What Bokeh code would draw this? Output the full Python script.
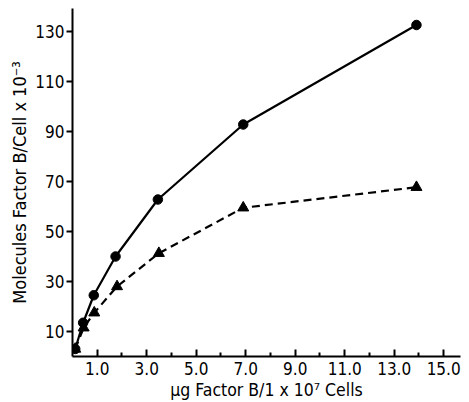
from bokeh.plotting import figure
from bokeh.models import Range1d, FixedTicker, NumeralTickFormatter
from bokeh.embed import file_html
from bokeh.resources import INLINE

# data
x_circle = [0.11, 0.43, 0.86, 1.74, 3.45, 6.9, 13.9]
y_circle = [3.0, 13.5, 24.5, 40.0, 62.8, 92.8, 132.6]
x_tri = [0.11, 0.45, 0.88, 1.8, 3.49, 6.9, 13.9]
y_tri = [3.0, 11.5, 17.5, 28.0, 41.3, 59.5, 67.7]
x_major = [1, 3, 5, 7, 9, 11, 13, 15]
x_minor = [2, 4, 6, 8, 10, 12, 14]
y_major = [10, 30, 50, 70, 90, 110, 130]
x_title = "\u03bcg Factor B/1 x 10\u2077 Cells"
y_title = "Molecules Factor B/Cell x 10\u207b\u00b3"

FONT = "DejaVu Sans Condensed"

p = figure(width=469, height=402, output_backend="svg", toolbar_location=None,
           x_range=Range1d(0, 15.68), y_range=Range1d(0, 139.2),
           min_border_left=72, min_border_top=8, min_border_right=9, min_border_bottom=46)
p.outline_line_color = None
p.grid.visible = False
p.background_fill_color = "white"
p.border_fill_color = "white"

p.line(x_circle, y_circle, line_width=2.2, line_color="black")
p.scatter(x_circle, y_circle, marker="circle", size=9.5, fill_color="black", line_color="black")
p.line(x_tri, y_tri, line_width=2.2, line_color="black", line_dash="8 5")
p.scatter(x_tri, y_tri, marker="triangle", size=11, fill_color="black", line_color="black")

xa = p.xaxis[0]
xa.ticker = FixedTicker(ticks=x_major, minor_ticks=x_minor)
xa.formatter = NumeralTickFormatter(format="0.0")
xa.major_tick_in = 7
xa.major_tick_out = 0
xa.minor_tick_in = 4
xa.minor_tick_out = 0
xa.axis_line_width = 2
xa.major_tick_line_width = 2
xa.minor_tick_line_width = 2
xa.major_label_standoff = 5
xa.major_label_text_font = FONT
xa.major_label_text_font_size = "17px"
xa.major_label_text_color = "black"
xa.axis_label = x_title
xa.axis_label_text_font = FONT
xa.axis_label_text_font_size = "17.5px"
xa.axis_label_text_font_style = "normal"
xa.axis_label_standoff = 2
xa.axis_label_text_color = "black"

ya = p.yaxis[0]
ya.ticker = FixedTicker(ticks=y_major, minor_ticks=[])
ya.major_tick_in = 0
ya.major_tick_out = 6
ya.axis_line_width = 2
ya.major_tick_line_width = 2
ya.major_label_standoff = 2
ya.major_label_text_font = FONT
ya.major_label_text_font_size = "17px"
ya.major_label_text_color = "black"
ya.axis_label = y_title
ya.axis_label_text_font = FONT
ya.axis_label_text_font_size = "18px"
ya.axis_label_text_font_style = "normal"
ya.axis_label_standoff = 2
ya.axis_label_text_color = "black"

open("out.html", "w").write(file_html(p, INLINE))
